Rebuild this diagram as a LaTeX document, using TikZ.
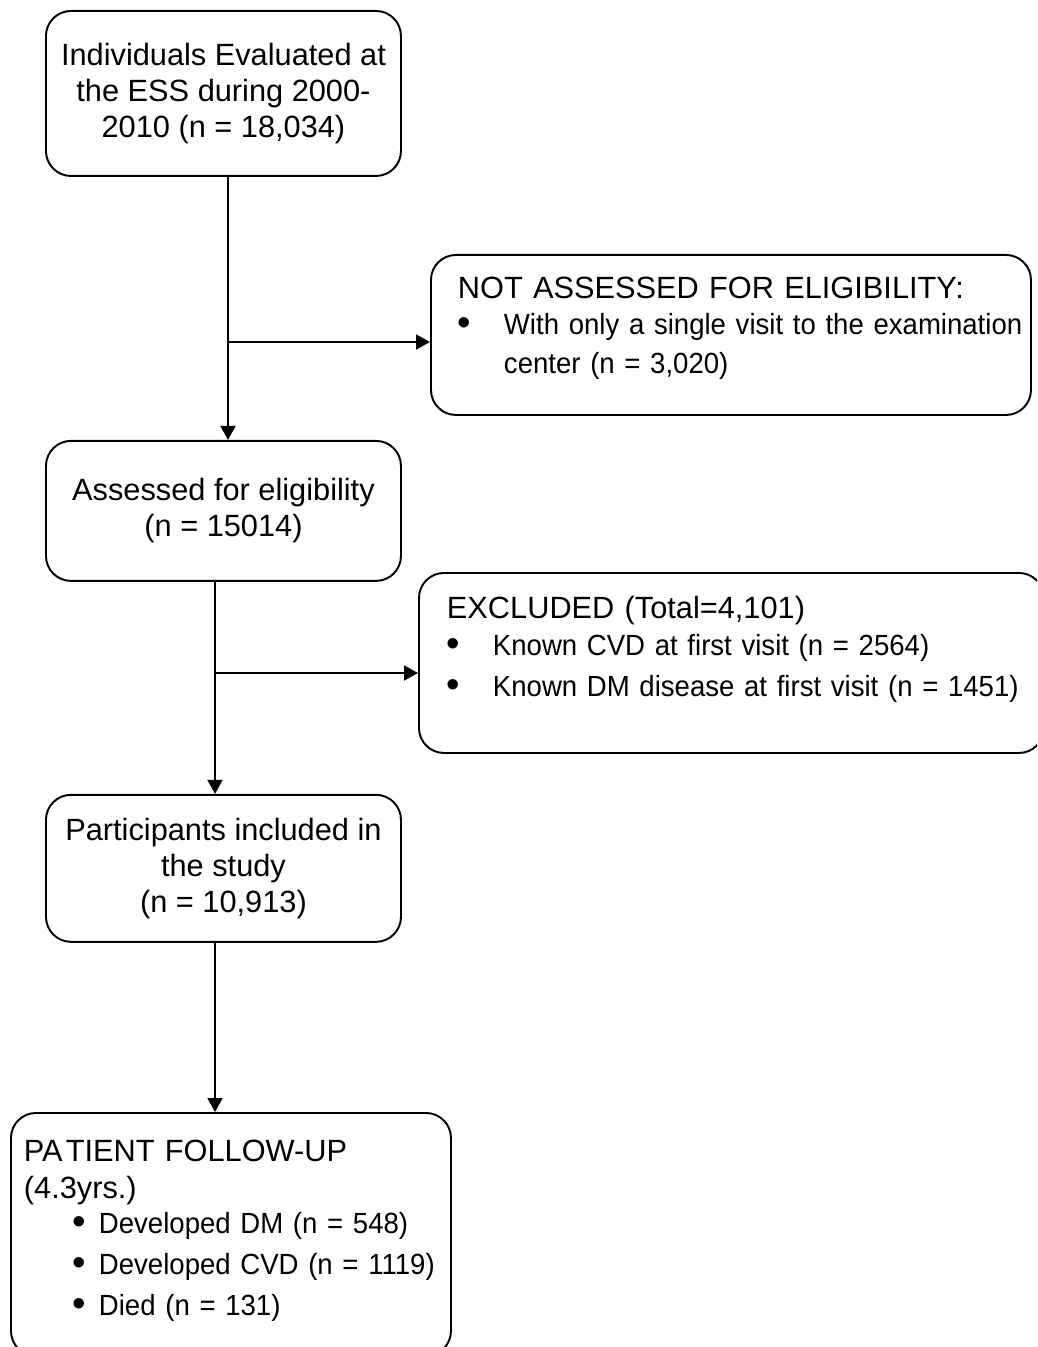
\documentclass[tikz,border=0pt]{standalone}
\usepackage{fontspec}
\usepackage{graphicx}
\setmainfont{Liberation Sans}
\usetikzlibrary{positioning, arrows.meta}
\tikzset{
every node/.style={font=\fontsize{17.5pt}{20.5pt}\selectfont}, % one text size everywhere
stagebox/.style={draw, line width=1.1pt, rounded corners=0.5cm}, % the rounded boxes
listbox/.style={stagebox, anchor=north west}, % boxes with a left aligned list
flow/.style={line width=1.1pt, -{Triangle[length=0.28cm, width=0.3cm]}}, % connectors
}
\newcommand{\itemtext}[1]{\scalebox{0.945}[1]{\fontsize{16.6pt}{20.5pt}\selectfont #1}}
\newcommand{\bul}[2]{\makebox[#1][l]{\raisebox{-0.04em}{\scalebox{1.25}{•}}}\itemtext{#2}}

\begin{document}
\begin{tikzpicture}
  \useasboundingbox (0,0) rectangle (20.74,-26.94);
  \clip (0,0) rectangle (20.74,-26.94);

  % main column
  \node[stagebox, anchor=north west, minimum width=7.1cm, minimum height=3.3cm, align=center] (evaluated) at (0.9,-0.2)
    {Individuals Evaluated at\\the ESS during 2000-\\2010 (n = 18,034)};
  \node[stagebox, below=5.26cm of evaluated, minimum width=7.1cm, minimum height=2.8cm, align=center] (assessed)
    {Assessed for eligibility\\(n = 15014)};
  \node[stagebox, below=4.24cm of assessed, minimum width=7.1cm, minimum height=2.94cm, align=center] (included)
    {Participants included in\\the study\\(n = 10,913)};
  \node[listbox, minimum width=8.8cm, minimum height=4.86cm, inner xsep=0.26cm, text width=8.28cm] (followup) at (0.2,-22.24)
    {\noindent\begin{tabular}{@{}l@{}}
     PA\kern0.1em TIENT FOLLOW-UP\\[0.5pt]
     (4.3yrs.)\\[-0.8pt]
     \hspace*{0.98cm}\bul{0.52cm}{Developed DM (n = 548)}\\[2.8pt]
     \hspace*{0.98cm}\bul{0.52cm}{Developed CVD (n = 1119)}\\[2.8pt]
     \hspace*{0.98cm}\bul{0.52cm}{Died (n = 131)}\\[0.12cm]
     \end{tabular}};

  % side boxes
  \node[listbox, minimum width=12cm, minimum height=3.2cm, inner xsep=0.54cm, text width=10.92cm] (notassessed) at (8.6,-5.08)
    {\noindent\begin{tabular}{@{}l@{}}
     NOT ASSESSED FOR ELIGIBILITY:\\
     \bul{0.92cm}{With only a single visit to the examination}\\[1.7pt]
     \hspace*{0.92cm}\itemtext{center (n = 3,020)}\\[0.24cm]
     \end{tabular}};
  \node[listbox, minimum width=12.5cm, minimum height=3.6cm, inner xsep=0.56cm, text width=11.38cm] (excluded) at (8.36,-11.44)
    {\noindent\begin{tabular}{@{}l@{}}
     EXCLUDED (Total=4,101)\\[0.5pt]
     \bul{0.92cm}{Known CVD at first visit (n = 2564)}\\[2.8pt]
     \bul{0.92cm}{Known DM disease at first visit (n = 1451)}\\[0.52cm]
     \end{tabular}};

  % forks
  \coordinate (fork1) at (4.56,-6.84);
  \coordinate (fork2) at (4.3,-13.46);

  \draw[flow] (evaluated.south -| fork1) -- (assessed.north -| fork1);
  \draw[flow] (fork1) -- (fork1 -| notassessed.west);
  \draw[flow] (assessed.south -| fork2) -- (included.north -| fork2);
  \draw[flow] (fork2) -- (fork2 -| excluded.west);
  \draw[flow] (included.south -| fork2) -- (followup.north -| fork2);
\end{tikzpicture}
\end{document}
